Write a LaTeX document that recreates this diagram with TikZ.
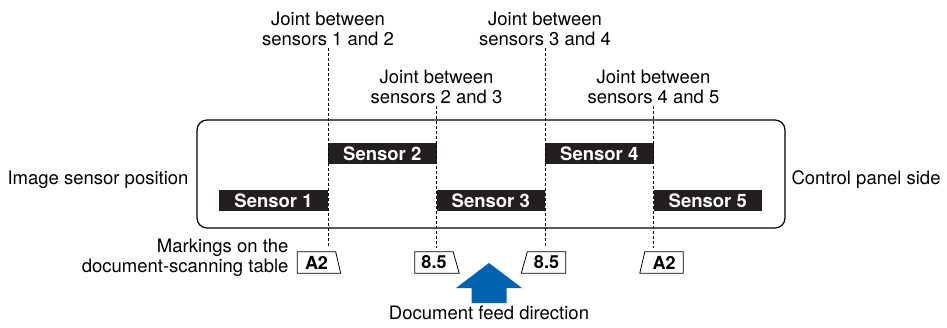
\documentclass[tikz,border=0pt]{standalone}
\usepackage{fontspec}
\setmainfont{TeX Gyre Heros}
\usepackage{tikz}
\definecolor{feedblue}{RGB}{0,99,177}
\definecolor{sensorblack}{RGB}{35,31,32}

\begin{document}
\begin{tikzpicture}[x=1pt,y=-1pt,
  every node/.style={font=\fontsize{18.5}{20}\selectfont},
  sensor/.style={fill=sensorblack,text=white,minimum width=108.5,minimum height=21,inner sep=0,font=\fontsize{18.5}{20}\selectfont\bfseries},
  joint/.style={align=center,inner sep=2},
  markbox/.style={minimum width=38,minimum height=21,inner sep=0,font=\fontsize{18}{20}\selectfont\bfseries},
  jointline/.style={line width=0.8,dash pattern=on 3pt off 2pt,shorten >=4pt}]
\useasboundingbox (0,0) rectangle (947,327);

% panel
\draw[line width=1.2,rounded corners=10] (197,120) rectangle (785,228);

\node[sensor] (s1) at (273.5,200.5) {Sensor 1};
\node[sensor] (s2) at (382.25,153.5) {Sensor 2};
\node[sensor] (s3) at (490.75,200.5) {Sensor 3};
\node[sensor] (s4) at (599.25,153.5) {Sensor 4};
\node[sensor] (s5) at (707.75,200.5) {Sensor 5};

\node[anchor=east] (isp) at (192,180) {Image sensor position};
\node[anchor=west] (cps) at (788,180) {Control panel side};

\node[joint] (j12) at (328,29) {Joint between\\sensors 1 and 2};
\node[joint] (j23) at (436.5,87) {Joint between\\sensors 2 and 3};
\node[joint] (j34) at (545,29) {Joint between\\sensors 3 and 4};
\node[joint] (j45) at (653.5,87) {Joint between\\sensors 4 and 5};

% markings
\node[anchor=east,align=right] (mk) at (292,258) {Markings on the\\document-scanning table};
\node[markbox] (mA) at (316.5,262.5) {A2};
\draw[line width=0.8] (mA.north west) -- (mA.north east) -- ([xshift=5]mA.south east) -- (mA.south west) -- cycle;
\node[markbox] (m85a) at (434,262.5) {8.5};
\draw[line width=0.8] (m85a.north west) -- (m85a.north east) -- ([xshift=6]m85a.south east) -- (m85a.south west) -- cycle;
\node[markbox] (m85b) at (546.5,262.5) {8.5};
\draw[line width=0.8] (m85b.north west) -- (m85b.north east) -- (m85b.south east) -- ([xshift=-6]m85b.south west) -- cycle;
\node[markbox] (mB) at (664,262.5) {A2};
\draw[line width=0.8] (mB.north west) -- (mB.north east) -- (mB.south east) -- ([xshift=-5]mB.south west) -- cycle;

\draw[jointline] (j12.south) -- (j12.south |- mA.north);
\draw[jointline] (j23.south) -- (j23.south |- m85a.north);
\draw[jointline] (j34.south) -- (j34.south |- m85b.north);
\draw[jointline] (j45.south) -- (j45.south |- mB.north);

% feed arrow
\fill[feedblue] (489,263) -- (522,288) -- (506.5,288) -- (506.5,303) -- (471.5,303) -- (471.5,288) -- (456,288) -- cycle;
\node (feed) at (489,313) {Document feed direction};
\end{tikzpicture}
\end{document}
